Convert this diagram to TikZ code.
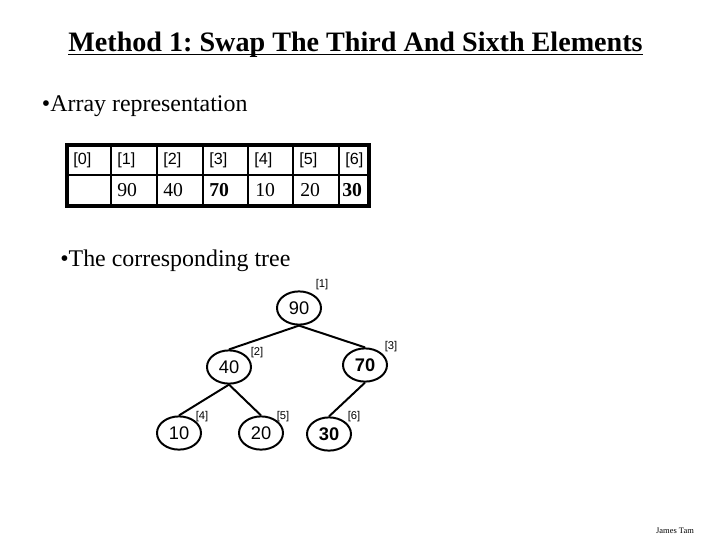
\documentclass[tikz,border=0pt]{standalone}
\usepackage{fontspec}
\setmainfont{Liberation Serif}
\setsansfont{Liberation Sans}
\usetikzlibrary{shapes.geometric,positioning}
\frenchspacing
\tikzset{
  hdr/.style={font=\fontsize{20}{24}\selectfont\bfseries,anchor=base,inner sep=0pt},
  bul/.style={font=\fontsize{17}{20}\selectfont,anchor=base west,inner sep=0pt},
  idx/.style={font=\sffamily\fontsize{11.5}{13}\selectfont,anchor=west,inner sep=0pt},
  val/.style={font=\fontsize{14}{16}\selectfont,anchor=west,inner sep=0pt},
  tnode/.style={draw,ellipse,line width=1.4pt,minimum width=1.1cm,minimum height=0.83cm,inner sep=0pt,font=\sffamily\fontsize{13}{15}\selectfont},
  hot/.style={tnode,font=\sffamily\bfseries\fontsize{13}{15}\selectfont},
  tlbl/.style={font=\sffamily\fontsize{8}{9}\selectfont,inner sep=0pt},
  tedge/.style={line width=1.4pt},
  cell/.style={line width=1.4pt}
}

\begin{document}
\begin{tikzpicture}[x=0.025cm, y=-0.025cm]
  \useasboundingbox (0,0) rectangle (720,540);
  % Title
  \node[hdr] (title) at (355.5,51) {Method 1: Swap The Third And Sixth Elements};
  \draw[line width=1.3pt] ([yshift=-2.5pt]title.base west) -- ([yshift=-2.5pt]title.base east);

  % Array
  \node[bul] (arr) at (41.7,111.7) {\textbullet Array representation};
  \draw[line width=2.2pt] (67,145) rectangle (369,206);
  \draw[cell] (67,175) -- (369,175);
  \foreach \x in {111,157,203,248,293,339}
    \draw[cell] (\x,145) -- (\x,206);
  \foreach \x [count=\i from 0] in {67,111,157,203,248,293,339}
    \node[idx] (i\i) at (\x+6,160) {[\i]};
  \node[val] (v1) at (117,190.5) {90};
  \node[val] (v2) at (163,190.5) {40};
  \node[val] (v3) at (209,190.5) {\textbf{70}};
  \node[val] (v4) at (255,190.5) {10};
  \node[val] (v5) at (300,190.5) {20};
  \node[val] (v6) at (342,190.5) {\textbf{30}};

  % Tree
  \node[bul] (tr) at (60,266.7) {\textbullet The corresponding tree};
  \node[tnode] (n1) at (299,308) {90};
  \node[tnode] (n2) at (229,367) {40};
  \node[hot] (n3) at (365,365) {70};
  \node[tnode] (n4) at (179,433) {10};
  \node[tnode] (n5) at (261,433) {20};
  \node[hot] (n6) at (329,434) {30};
  \node[tlbl] (l1) at (322,285) {[1]};
  \node[tlbl] (l2) at (257,353) {[2]};
  \node[tlbl] (l3) at (391,347) {[3]};
  \node[tlbl] (l4) at (202,417) {[4]};
  \node[tlbl] (l5) at (283,417) {[5]};
  \node[tlbl] (l6) at (354,417) {[6]};
  \draw[tedge] (n1.south) -- (n2.north);
  \draw[tedge] (n1.south) -- (n3.north);
  \draw[tedge] (n2.south) -- (n4.north);
  \draw[tedge] (n2.south) -- (n5.north);
  \draw[tedge] (n3.south) -- (n6.north);

  % Footer
  \node[font=\fontsize{6}{7}\selectfont,anchor=base,inner sep=0pt] (foot) at (675,533) {James Tam};
\end{tikzpicture}
\end{document}
